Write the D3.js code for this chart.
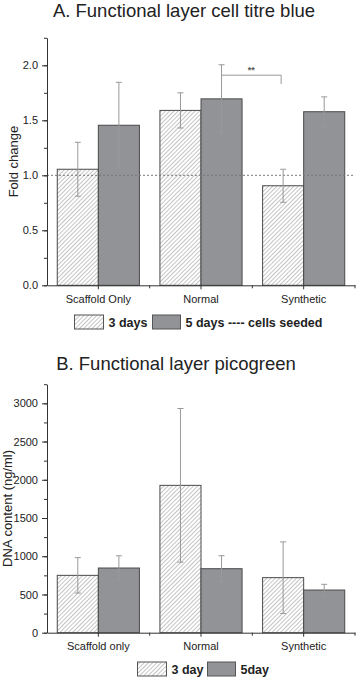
<!DOCTYPE html>
<html><head><meta charset="utf-8">
<script src="https://cdn.jsdelivr.net/npm/d3@7"></script>
<style>body{margin:0;background:#fff}svg{display:block;font-family:"Liberation Sans",Arial,sans-serif}</style>
</head><body><svg id="c" width="357" height="677"></svg>
<script>
// ---- Data ----
const catsA = ["Scaffold Only", "Normal", "Synthetic"];
const seriesA = ["3 days", "5 days ---- cells seeded"];
const meanA_3 = [1.055, 1.59, 0.905];
const errA_3 = [0.245, 0.16, 0.15];
const meanA_5 = [1.455, 1.695, 1.578];
const errA_5 = [0.39, 0.31, 0.135];
const ticksA = [0.0, 0.5, 1.0, 1.5, 2.0];
const minorA = [0, 0.25, 0.5, 0.75, 1.0, 1.25, 1.5, 1.75, 2.0, 2.25];

const catsB = ["Scaffold only", "Normal", "Synthetic"];
const seriesB = ["3 day", "5day"];
const meanB_3 = [750, 1927, 720];
const errB_3 = [232, 1005, 468];
const meanB_5 = [846, 837, 558];
const errB_5 = [160, 170, 75];
const ticksB = [0, 500, 1000, 1500, 2000, 2500, 3000];
const minorB = [0, 250, 500, 750, 1000, 1250, 1500, 1750, 2000, 2250, 2500, 2750, 3000, 3250];

const svg = d3.select("#c");
const defs = svg.append("defs");
const pat = defs.append("pattern").attr("id","hatch").attr("patternUnits","userSpaceOnUse")
  .attr("width",3).attr("height",3).attr("patternTransform","rotate(45)");
pat.append("rect").attr("width",3).attr("height",3).attr("fill","#fff");
pat.append("line").attr("x1",0).attr("y1",0).attr("x2",0).attr("y2",3).attr("stroke","#8a8a8a").attr("stroke-width",1);

const GREY = "#929397";
const fills = ["url(#hatch)", GREY];

function panel(opt){
  const x0 = d3.scaleBand().domain(opt.cats).range([47,355]).padding(0);
  const x1 = d3.scaleBand().domain(opt.series).range([x0.bandwidth()*0.1, x0.bandwidth()*0.9]);
  const y = d3.scaleLinear().domain([0, opt.ymax]).range([opt.y0, opt.ytop]);
  const g = svg.append("g");
  // title
  svg.append("text").attr("x",opt.titleX).attr("y",opt.titleY).attr("text-anchor","middle")
    .attr("font-size",18.5).attr("fill","#222").text(opt.title);
  // y label
  svg.append("text").attr("transform",`translate(${opt.ylabX},${(opt.y0+opt.ytop)/2}) rotate(-90)`)
    .attr("text-anchor","middle").attr("font-size",13).attr("fill","#222").text(opt.ylabel);
  // bars
  const data = [];
  opt.cats.forEach((c,i)=>{
    opt.series.forEach((s,j)=>{
      data.push({c, s, j, m: opt.means[j][i], e: opt.errs[j][i]});
    });
  });
  const bx = d => x0(d.c) + x1(d.s);
  g.selectAll("rect.bar").data(data).join("rect").attr("class","bar")
    .attr("x", bx).attr("width", x1.bandwidth())
    .attr("y", d=>y(d.m)).attr("height", d=>y(0)-y(d.m))
    .attr("fill", d=>fills[d.j]).attr("stroke","#4a4a4a").attr("stroke-width",1);
  // reference line
  if (opt.refLine !== undefined){
    g.append("line").attr("x1",47).attr("x2",355).attr("y1",y(opt.refLine)).attr("y2",y(opt.refLine))
      .attr("stroke","#777").attr("stroke-dasharray","2,2").attr("stroke-width",1);
  }
  // error bars
  const eb = g.selectAll("g.eb").data(data).join("g").attr("class","eb")
    .attr("stroke","#999").attr("stroke-width",1);
  eb.append("line").attr("x1",d=>bx(d)+x1.bandwidth()/2).attr("x2",d=>bx(d)+x1.bandwidth()/2)
    .attr("y1",d=>y(d.m+d.e)).attr("y2",d=>y(d.m-d.e));
  [1,-1].forEach(sg=>{
    eb.append("line").attr("x1",d=>bx(d)+x1.bandwidth()/2-3).attr("x2",d=>bx(d)+x1.bandwidth()/2+3)
      .attr("y1",d=>y(d.m+sg*d.e)).attr("y2",d=>y(d.m+sg*d.e));
  });
  // y axis
  const ya = g.append("g").attr("transform","translate(47,0)")
    .call(d3.axisLeft(y).tickValues(opt.ticks).tickFormat(opt.fmt).tickSize(5).tickPadding(4).tickSizeOuter(0));
  const ym = g.append("g").attr("transform","translate(47,0)")
    .call(d3.axisLeft(y).tickValues(opt.minor).tickFormat("").tickSize(3).tickSizeOuter(0));
  ym.select(".domain").remove();
  // x axis
  const xa = g.append("g").attr("transform",`translate(0,${opt.y0})`)
    .call(d3.axisBottom(x0).tickSize(4).tickSizeOuter(0).tickPadding(6));
  const xb = g.append("g").attr("transform",`translate(0,${opt.y0})`);
  xb.selectAll("line").data(opt.cats).join("line")
    .attr("x1",d=>x0(d)+x0.bandwidth()).attr("x2",d=>x0(d)+x0.bandwidth()).attr("y1",0).attr("y2",3)
    .attr("stroke","#333");
  [ya,ym,xa,xb].forEach(a=>{
    a.selectAll("path,line").attr("stroke","#333");
    a.selectAll("text").attr("font-size",11).attr("fill","#222").attr("font-family","Liberation Sans, Arial, sans-serif");
  });
  // legend
  const lg = svg.append("g");
  opt.series.forEach((s,j)=>{
    lg.append("rect").attr("x",opt.leg[j][0]).attr("y",opt.legY).attr("width",opt.leg[j][1]).attr("height",14)
      .attr("fill",fills[j]).attr("stroke","#555").attr("stroke-width",1);
    lg.append("text").attr("x",opt.leg[j][0]+opt.leg[j][1]+5).attr("y",opt.legY+12)
      .attr("font-size",12.5).attr("font-weight","bold").attr("fill","#222").text(s);
  });
  return {x0,x1,y,g};
}

const A = panel({cats:catsA, series:seriesA, means:[meanA_3,meanA_5], errs:[errA_3,errA_5],
  ymax:2.25, y0:285.3, ytop:37.8, ticks:ticksA, minor:minorA, fmt:d3.format(".1f"),
  title:"A. Functional layer cell titre blue", titleX:184, titleY:17, ylabel:"Fold change", ylabX:18,
  refLine:1.0, leg:[[74.5,29],[152.5,28]], legY:315});

// significance bracket
const bxA = A.x0("Normal") + A.x1(seriesA[1]) + A.x1.bandwidth()/2;
const bxB = A.x0("Synthetic") + A.x1(seriesA[0]) + A.x1.bandwidth()/2 - 2;
const by = A.y(1.91);
A.g.append("path").attr("d",`M${bxA},${by}H${bxB}V${A.y(1.83)}`).attr("fill","none")
  .attr("stroke","#999").attr("stroke-width",1);
A.g.append("text").attr("x",(bxA+bxB)/2).attr("y",by-2).attr("text-anchor","middle")
  .attr("font-size",9).attr("font-weight","bold").attr("fill","#555").text("**");

const B = panel({cats:catsB, series:seriesB, means:[meanB_3,meanB_5], errs:[errB_3,errB_5],
  ymax:3250, y0:632.7, ytop:384.2, ticks:ticksB, minor:minorB, fmt:d3.format("d"),
  title:"B. Functional layer picogreen", titleX:176, titleY:370, ylabel:"DNA content (ng/ml)", ylabX:12,
  leg:[[137.5,29],[207.5,28]], legY:662});
</script></body></html>
